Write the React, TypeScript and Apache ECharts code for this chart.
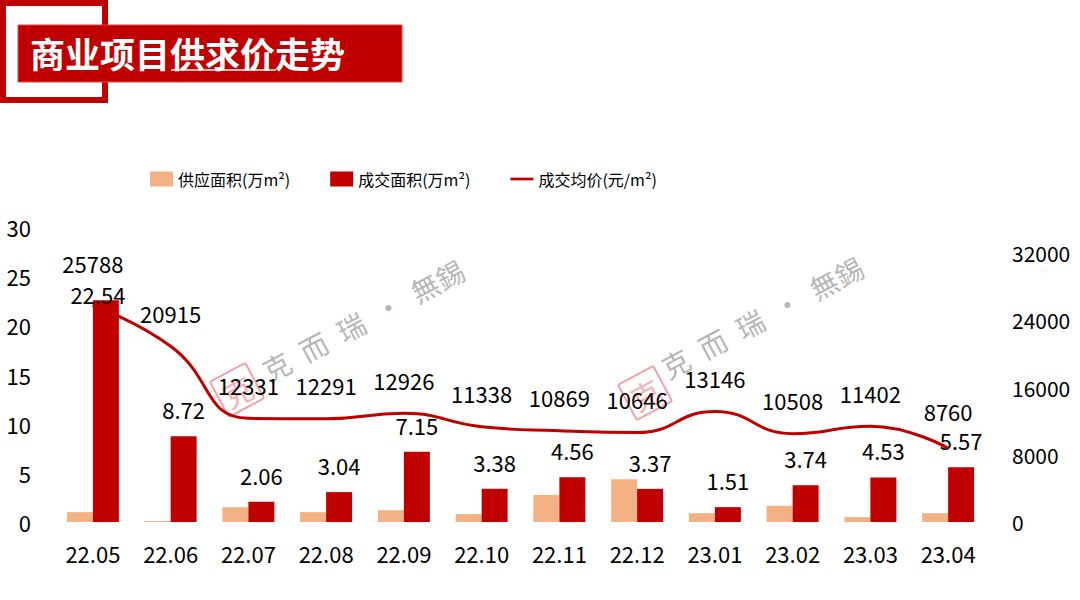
import React, { useEffect, useRef } from "react";
import * as echarts from "echarts";

const categories = ["22.05", "22.06", "22.07", "22.08", "22.09", "22.10", "22.11", "22.12", "23.01", "23.02", "23.03", "23.04"];
const supplyArea = [1.0, 0.1, 1.5, 1.0, 1.2, 0.8, 2.75, 4.35, 0.9, 1.65, 0.5, 0.9];
const dealArea = [22.54, 8.72, 2.06, 3.04, 7.15, 3.38, 4.56, 3.37, 1.51, 3.74, 4.53, 5.57];
const avgPrice = [25788, 20915, 12331, 12291, 12926, 11338, 10869, 10646, 13146, 10508, 11402, 8760];
const seriesNames = ["供应面积(万m²)", "成交面积(万m²)", "成交均价(元/m²)"];
const titleText = "商业项目供求价走势";
const watermarkText = "克\u2002而\u2002瑞\u2002·\u2002無錫";

const FONT = '"Noto Sans CJK SC", "Noto Sans", sans-serif';
const RED = "#C00000";
const ORANGE = "#F4B183";

function watermark(cx: number, cy: number, sx: number, sy: number) {
  const rot = (28 * Math.PI) / 180;
  return [
    {
      type: "group",
      x: cx,
      y: cy,
      rotation: rot,
      silent: true,
      children: [
        {
          type: "text",
          x: 0,
          y: 0,
          style: {
            text: watermarkText,
            font: `28px ${FONT}`,
            fill: "rgba(150,150,150,0.7)",
            align: "center",
            verticalAlign: "middle",
          },
        },
      ],
    },
    {
      type: "group",
      x: sx,
      y: sy,
      rotation: rot,
      silent: true,
      children: [
        {
          type: "rect",
          shape: { x: -20, y: -20, width: 40, height: 40, r: 2 },
          style: { fill: "none", stroke: "rgba(230,100,110,0.6)", lineWidth: 2 },
        },
        {
          type: "text",
          x: 0,
          y: 1,
          style: {
            text: "克",
            font: `30px ${FONT}`,
            fill: "rgba(230,100,110,0.5)",
            align: "center",
            verticalAlign: "middle",
          },
        },
      ],
    },
  ];
}

export default function App() {
  const ref = useRef<HTMLDivElement>(null);

  useEffect(() => {
    if (!ref.current) return;
    const chart = echarts.init(ref.current, null, { renderer: "svg" });
    const dealData = dealArea.map((v, i) =>
      i === 0 ? { value: v, label: { distance: -5, offset: [-8, 0] } } : v
    );
    const priceData = avgPrice.map((v, i) =>
      i === 0 ? { value: v, label: { distance: 31 } } : i === avgPrice.length - 1 ? { value: v, label: { distance: 26 } } : v
    );
    chart.setOption({
      animation: false,
      textStyle: { fontFamily: FONT },
      legend: {
        top: 166,
        left: 145,
        itemWidth: 23,
        itemHeight: 15,
        itemGap: 40,
        textStyle: { fontSize: 16, color: "#000", fontFamily: FONT },
        data: [
          { name: seriesNames[0], icon: "rect" },
          { name: seriesNames[1], icon: "rect" },
          { name: seriesNames[2], icon: "path://M0 0h25v3H0z" },
        ],
      },
      grid: { left: 54, right: 93, top: 227, bottom: 78, containLabel: false },
      xAxis: {
        type: "category",
        data: categories,
        axisLine: { show: false },
        axisTick: { show: false },
        axisLabel: { fontSize: 22, color: "#000", margin: 20, fontFamily: FONT },
      },
      yAxis: [
        {
          type: "value",
          min: 0,
          max: 30,
          interval: 5,
          splitLine: { show: false },
          axisLine: { show: false },
          axisTick: { show: false },
          axisLabel: { fontSize: 22, color: "#000", margin: 23, fontFamily: FONT },
        },
        {
          type: "value",
          min: 0,
          max: 35100,
          interval: 8000,
          splitLine: { show: false },
          axisLine: { show: false },
          axisTick: { show: false },
          axisLabel: {
            fontSize: 21,
            color: "#000",
            margin: 25,
            fontFamily: FONT,
            showMaxLabel: false,
            formatter: (v: number) => String(v),
          },
        },
      ],
      series: [
        {
          name: seriesNames[0],
          type: "bar",
          data: supplyArea,
          barWidth: 26,
          barGap: "0%",
          itemStyle: { color: ORANGE },
        },
        {
          name: seriesNames[1],
          type: "bar",
          data: dealData,
          barWidth: 26,
          itemStyle: { color: RED },
          label: {
            show: true,
            position: "top",
            distance: 16,
            fontSize: 22,
            lineHeight: 22,
            color: "#000",
            fontFamily: FONT,
          },
        },
        {
          name: seriesNames[2],
          type: "line",
          yAxisIndex: 1,
          data: priceData,
          smooth: 0.5,
          symbol: "circle",
          symbolSize: 1,
          showSymbol: true,
          lineStyle: { color: RED, width: 3 },
          itemStyle: { color: RED },
          z: 5,
          label: {
            show: true,
            position: "top",
            distance: 22,
            fontSize: 22,
            lineHeight: 22,
            color: "#000",
            fontFamily: FONT,
          },
        },
      ],
      graphic: [
        {
          type: "rect",
          shape: { x: 3, y: 3, width: 102, height: 97 },
          style: { fill: "none", stroke: RED, lineWidth: 6 },
        },
        {
          type: "rect",
          shape: { x: 18, y: 25, width: 384, height: 57 },
          style: { fill: RED, stroke: "#d44", lineWidth: 1 },
        },
        {
          type: "text",
          x: 30,
          y: 52,
          style: {
            text: titleText,
            font: `bold 35px ${FONT}`,
            fill: "#fff",
            verticalAlign: "middle",
          },
        },
        {
          type: "line",
          shape: { x1: 171, y1: 70, x2: 276, y2: 70 },
          style: { stroke: "#fff", lineWidth: 1.5 },
        },
        ...watermark(363, 320, 237, 390),
        ...watermark(762, 317, 645, 393),
      ],
    });
    return () => chart.dispose();
  }, []);

  return (
    <div
      ref={ref}
      style={{ position: "fixed", left: 0, top: 0, width: 1080, height: 600, background: "#fff" }}
    />
  );
}
